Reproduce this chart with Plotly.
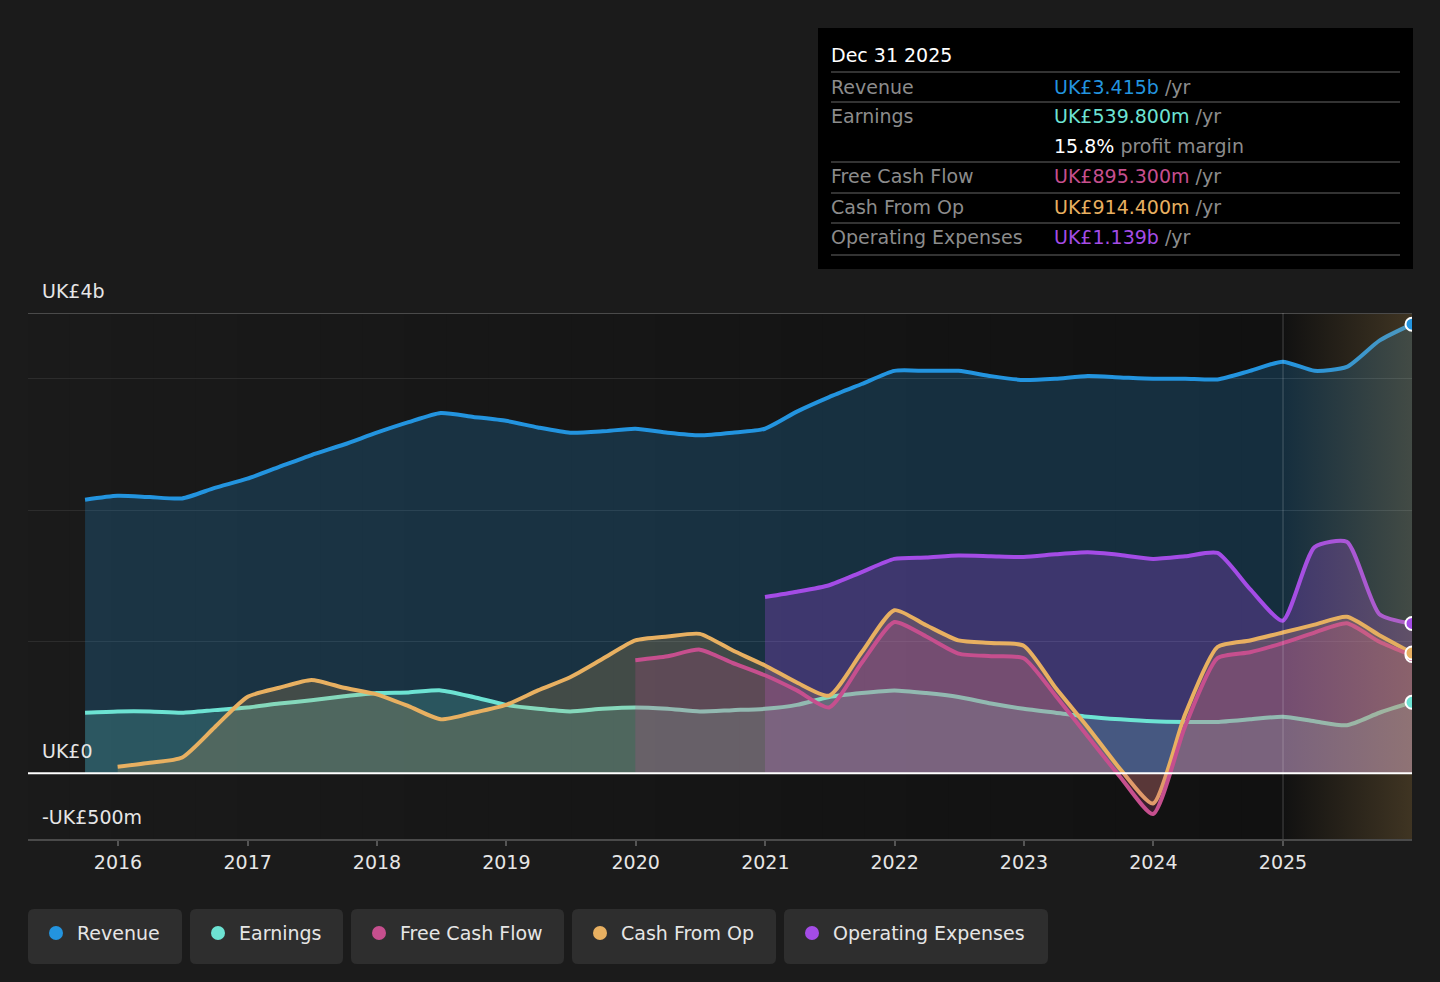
import plotly.graph_objects as go

# Quarter-end dates, Sep 2015 .. Dec 2025
quarters = [f"{y}-{md}" for y in range(2015, 2026)
            for md in ("03-31", "06-30", "09-30", "12-31")][2:]

# Values in UK£ billions
revenue = [2.08, 2.11,
           2.10, 2.09, 2.17, 2.24,
           2.33, 2.42, 2.50, 2.59,
           2.67, 2.74, 2.71, 2.68,
           2.63, 2.59, 2.60, 2.62,
           2.59, 2.57, 2.59, 2.62,
           2.75, 2.86, 2.96, 3.06,
           3.06, 3.06, 3.02, 2.99,
           3.00, 3.02, 3.01, 3.00,
           3.00, 2.995, 3.06, 3.13,
           3.06, 3.09, 3.29, 3.415]
earnings = [0.46, 0.47,
            0.47, 0.46, 0.48, 0.50,
            0.53, 0.555, 0.585, 0.61,
            0.615, 0.63, 0.58, 0.52,
            0.49, 0.47, 0.49, 0.50,
            0.49, 0.47, 0.48, 0.49,
            0.52, 0.58, 0.61, 0.63,
            0.61, 0.58, 0.53, 0.49,
            0.46, 0.43, 0.41, 0.395,
            0.39, 0.39, 0.41, 0.43,
            0.395, 0.365, 0.46, 0.5398]
cash_from_op = [0.05,
                0.08, 0.12, 0.35, 0.58,
                0.65, 0.71, 0.65, 0.60,
                0.51, 0.41, 0.46, 0.52,
                0.63, 0.73, 0.87, 1.01,
                1.04, 1.06, 0.935, 0.82,
                0.69, 0.59, 0.92, 1.24,
                1.125, 1.01, 0.99, 0.97,
                0.65, 0.35, 0.03, -0.23,
                0.45, 0.96, 1.01, 1.07,
                1.13, 1.19, 1.05, 0.9144]
free_cash_flow = [0.86,
                  0.89, 0.94, 0.84, 0.745,
                  0.63, 0.50, 0.84, 1.15,
                  1.04, 0.91, 0.89, 0.875,
                  0.59, 0.28, -0.03, -0.31,
                  0.36, 0.875, 0.92, 0.99,
                  1.07, 1.14, 1.00, 0.8953]
operating_expenses = [1.34,
                      1.38, 1.43, 1.53, 1.63,
                      1.64, 1.655, 1.65, 1.645,
                      1.665, 1.68, 1.66, 1.63,
                      1.65, 1.675, 1.40, 1.16,
                      1.72, 1.76, 1.21, 1.139]

years = list(range(2016, 2026))

REV = '#2394df'
EARN = '#6de3d3'
FCF = '#c64f8e'
CFO = '#e8b061'
OPEX = '#a44ce6'
LABEL = '#8c8c8c'


def rgba(hex_color, a):
    h = hex_color.lstrip('#')
    r, g, b = int(h[0:2], 16), int(h[2:4], 16), int(h[4:6], 16)
    return f'rgba({r},{g},{b},{a})'


# pixel -> paper helpers (plot area is 28..1412 x 313..839)
L, R, T, B = 28, 1412, 313, 839


def px(x):
    return (x - L) / (R - L)


def py(y):
    return (B - y) / (B - T)


fig = go.Figure()

# drawing order: revenue, opex, earnings, cash from op, fcf
series = [
    ('Revenue', revenue, REV, 0.22),
    ('Operating Expenses', operating_expenses, OPEX, 0.28),
    ('Earnings', earnings, EARN, 0.2),
    ('Cash From Op', cash_from_op, CFO, 0.2),
    ('Free Cash Flow', free_cash_flow, FCF, 0.22),
]
for name, vals, color, alpha in series:
    fig.add_trace(go.Scatter(
        x=quarters[-len(vals):], y=vals, name=name, mode='lines',
        line=dict(color=color, width=4, shape='spline', smoothing=0.6),
        fill='tozeroy', fillcolor=rgba(color, alpha), hoverinfo='skip'
    ))

# forecast / latest-year highlight band
band_start, band_end = '2025-01-01', '2025-12-31'
fig.add_trace(go.Scatter(
    x=[band_start, band_end, band_end, band_start, band_start],
    y=[-0.5, -0.5, 3.5, 3.5, -0.5], mode='lines', line=dict(width=0),
    fill='toself', fillcolor='rgba(0,0,0,0)',
    fillgradient=dict(type='horizontal', colorscale=[
        [0, 'rgba(210,165,90,0)'], [1, 'rgba(210,165,90,0.24)']]),
    hoverinfo='skip'
))

# end-point markers
ends = [revenue, earnings, free_cash_flow, cash_from_op, operating_expenses]
fig.add_trace(go.Scatter(
    x=[quarters[-1]] * len(ends), y=[s[-1] for s in ends], mode='markers',
    marker=dict(size=13, color=[REV, EARN, FCF, CFO, OPEX],
                line=dict(color='white', width=2)),
    hoverinfo='skip'
))

shapes = []
# subtle horizontal background gradient (lighter on the left)
n = 30
edge = px(1283)
for i in range(n):
    c = round(26 - 9 * i / (n - 1))
    shapes.append(dict(type='rect', xref='paper', yref='paper',
                       x0=edge * i / n, x1=edge * (i + 1) / n + 0.001, y0=0, y1=1,
                       fillcolor=f'rgb({c},{c},{c})', line_width=0, layer='below'))

shapes += [
    dict(type='line', xref='paper', yref='y', x0=0, x1=1, y0=3.5, y1=3.5,
         line=dict(color='#4a4a4a', width=2)),
    dict(type='line', xref='paper', yref='y', x0=0, x1=1, y0=0, y1=0,
         line=dict(color='white', width=2), layer='above'),
    dict(type='line', xref='x', yref='paper', x0=band_start, x1=band_start, y0=0, y1=1,
         line=dict(color='rgba(255,255,255,0.15)', width=1.5), layer='above'),
    # tooltip box
    dict(type='rect', xref='paper', yref='paper', x0=px(818), x1=px(1413),
         y0=py(269), y1=py(28), fillcolor='#000000', line_width=0),
]
for sy in [72, 102, 162, 193, 223, 255]:
    shapes.append(dict(type='line', xref='paper', yref='paper', x0=px(831), x1=px(1400),
                       y0=py(sy), y1=py(sy), line=dict(color='#444444', width=1.5)))


def P(x, y):
    return f'{px(x)},{py(y)}'


def rounded(x0, y0, x1, y1, r=6):
    return (f'M {P(x0 + r, y0)} L {P(x1 - r, y0)} Q {P(x1, y0)} {P(x1, y0 + r)} '
            f'L {P(x1, y1 - r)} Q {P(x1, y1)} {P(x1 - r, y1)} '
            f'L {P(x0 + r, y1)} Q {P(x0, y1)} {P(x0, y1 - r)} '
            f'L {P(x0, y0 + r)} Q {P(x0, y0)} {P(x0 + r, y0)} Z')


annotations = []

# legend chips
legend = [('Revenue', REV, 28, 182), ('Earnings', EARN, 190, 343),
          ('Free Cash Flow', FCF, 351, 564), ('Cash From Op', CFO, 572, 776),
          ('Operating Expenses', OPEX, 784, 1048)]
for name, color, x0, x1 in legend:
    shapes.append(dict(type='path', xref='paper', yref='paper', path=rounded(x0, 909, x1, 964),
                       fillcolor='#2e2e2e', line_width=0))
    cx = x0 + 28
    shapes.append(dict(type='circle', xref='paper', yref='paper', x0=px(cx - 7), x1=px(cx + 7),
                       y0=py(940), y1=py(926), fillcolor=color, line_width=0))
    annotations.append(dict(x=px(cx + 21), y=py(933), text=name, font=dict(color='#e6e6e6')))

# y-axis labels inside the plot
for text, yy in [('UK£4b', 291), ('UK£0', 751), ('-UK£500m', 817)]:
    annotations.append(dict(x=px(42), y=py(yy), text=text, font=dict(color='#e6e6e6')))

# tooltip text
annotations.append(dict(x=px(831), y=py(55), text='Dec 31 2025', font=dict(color='#ffffff')))
rows = [
    ('Revenue', 87, f'<span style="color:{REV}">UK£3.415b</span> /yr'),
    ('Earnings', 116, f'<span style="color:{EARN}">UK£539.800m</span> /yr'),
    ('', 146, '<span style="color:#ffffff">15.8%</span> profit margin'),
    ('Free Cash Flow', 176, f'<span style="color:{FCF}">UK£895.300m</span> /yr'),
    ('Cash From Op', 207, f'<span style="color:{CFO}">UK£914.400m</span> /yr'),
    ('Operating Expenses', 237, f'<span style="color:{OPEX}">UK£1.139b</span> /yr'),
]
for label, yy, value in rows:
    if label:
        annotations.append(dict(x=px(831), y=py(yy), text=label, font=dict(color=LABEL)))
    annotations.append(dict(x=px(1054), y=py(yy), text=value, font=dict(color=LABEL)))

for a in annotations:
    a.update(xref='paper', yref='paper', xanchor='left', yanchor='middle', showarrow=False,
             borderpad=0, borderwidth=0)

fig.update_layout(
    width=1440, height=982,
    margin=dict(l=L, r=1440 - R, t=T, b=982 - B),
    paper_bgcolor='#1b1b1b', plot_bgcolor='#111111',
    font=dict(family='DejaVu Sans', size=19, color='#e6e6e6'),
    showlegend=False,
    shapes=shapes, annotations=annotations,
    xaxis=dict(type='date', range=['2015-04-22', '2025-12-31'],
               tickvals=[f'{y}-01-01' for y in years], ticktext=[str(y) for y in years],
               ticks='outside', ticklen=5, tickwidth=1.5, tickcolor='#555555',
               showgrid=False, zeroline=False, showline=True, linecolor='#4a4a4a', linewidth=2,
               tickfont=dict(size=19, color='#e6e6e6')),
    yaxis=dict(range=[-0.5, 3.5], tickvals=[1, 2, 3], showticklabels=False,
               gridcolor='#2c2c2c', gridwidth=1, zeroline=False, showline=False),
)

# remove the default page margin so the figure fills the window
fig.write_html("out.html", config={'displayModeBar': False},
               post_script="document.body.style.margin='0';"
                           "document.body.style.background='#1b1b1b';")
